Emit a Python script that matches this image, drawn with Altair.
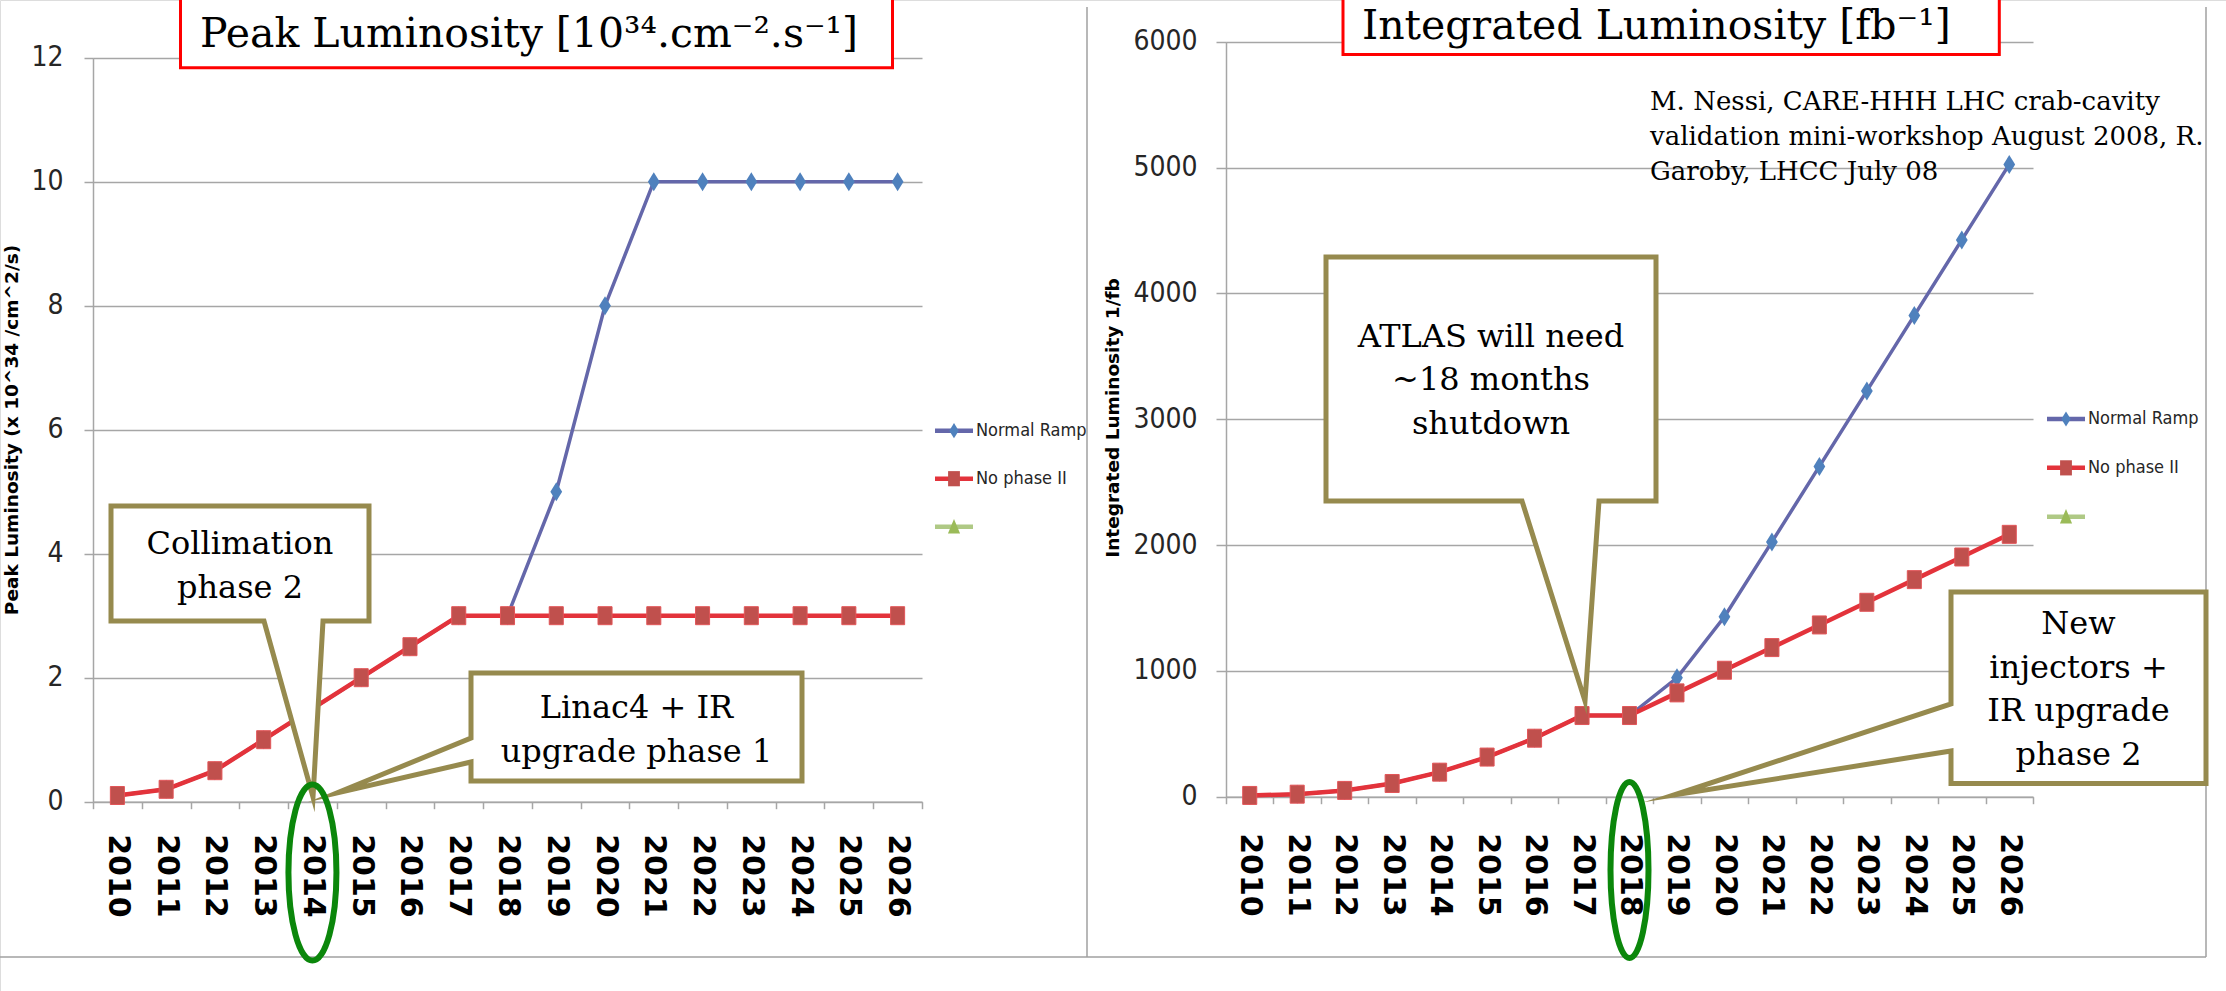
import altair as alt
import pandas as pd

# ---------------- data ----------------
years = ["2010", "2011", "2012", "2013", "2014", "2015", "2016", "2017", "2018",
         "2019", "2020", "2021", "2022", "2023", "2024", "2025", "2026"]

peak_normal_ramp = [0.1, 0.2, 0.5, 1.0, 1.5, 2.0, 2.5, 3.0, 3.0, 5.0, 8.0, 10.0, 10.0, 10.0, 10.0, 10.0, 10.0]
peak_no_phase2 = [0.1, 0.2, 0.5, 1.0, 1.5, 2.0, 2.5, 3.0, 3.0, 3.0, 3.0, 3.0, 3.0, 3.0, 3.0, 3.0, 3.0]

int_normal_ramp = [10, 20, 50, 105, 195, 315, 465, 645, 645, 945, 1430, 2025, 2625, 3225, 3825, 4425, 5025]
int_no_phase2 = [10, 20, 50, 105, 195, 315, 465, 645, 645, 825, 1005, 1185, 1365, 1545, 1725, 1905, 2085]

peak_ticks = [0, 2, 4, 6, 8, 10, 12]
int_ticks = [0, 1000, 2000, 3000, 4000, 5000, 6000]

legend_keys = ["Normal Ramp", "No phase II", "Series3"]
legend_labels = ["Normal Ramp", "No phase II", ""]

peak_title = "Peak Luminosity [10³⁴.cm⁻².s⁻¹]"
int_title = "Integrated Luminosity [fb⁻¹]"
peak_ytitle = "Peak Luminosity (x 10^34 /cm^2/s)"
int_ytitle = "Integrated Luminosity 1/fb"
citation = ["M. Nessi, CARE-HHH LHC crab-cavity",
            "validation mini-workshop August 2008, R.",
            "Garoby, LHCC July 08"]
callout_collimation = ["Collimation", "phase 2"]
callout_linac = ["Linac4 + IR", "upgrade phase 1"]
callout_atlas = ["ATLAS will need", "~18 months", "shutdown"]
callout_injectors = ["New", "injectors +", "IR upgrade", "phase 2"]
marked_years = ["2014", "2018"]

# ---------------- styles ----------------
W, H = 2226, 991
GRID = "#A6A6A6"
BLUE_LINE = "#6467AA"
BLUE_MARK = "#4F81BD"
RED_LINE = "#E3333B"
RED_MARK = "#C0504D"
GREEN = "#9BBB59"
OLIVE = "#968A4E"
RING = "#0B870B"
NARROW = "DejaVu Sans Condensed, Liberation Sans, sans-serif"
SERIF = "DejaVu Serif"
SANS = "DejaVu Sans"

DIAMOND = "M0,-1L0.62,0L0,1L-0.62,0Z"
SQUARE = "M-0.78,-1L0.78,-1L0.78,1L-0.78,1Z"
TRIANGLE = "M0,-1L0.8,0.9L-0.8,0.9Z"

one = pd.DataFrame({"k": [0]})


def panel(normal, nophase, x_range, y_dom, y_range, y_ticks, x_off, x_lab_pad, y_off, y_tick, y_lab_pad):
    df = pd.DataFrame({"year": years, "normal": normal, "nophase": nophase})
    xs = alt.Scale(type="band", domain=years, range=x_range, paddingInner=0, paddingOuter=0)
    ys = alt.Scale(domain=y_dom, range=y_range, nice=False, zero=False)
    xaxis = alt.Axis(orient="bottom", offset=x_off, grid=False, tickBand="extent", tickSize=7,
                     tickColor=GRID, tickWidth=1.5, domainColor=GRID, domainWidth=1.5,
                     labelAngle=90, labelAlign="left", labelBaseline="middle", labelFont=SANS,
                     labelFontWeight="bold", labelFontSize=30, labelColor="black",
                     labelPadding=x_lab_pad, labelOverlap=False, title=None)
    yaxis = alt.Axis(orient="left", offset=y_off, values=y_ticks, format="d", grid=True, gridColor=GRID,
                     gridWidth=1.5, tickSize=y_tick, tickColor=GRID, tickWidth=1.5,
                     domainColor=GRID, domainWidth=1.5, labelFont=NARROW, labelFontSize=28,
                     labelColor="#262626", labelPadding=y_lab_pad, labelOverlap=False, title=None)
    base = alt.Chart(df)
    layers = [
        base.mark_line(color=BLUE_LINE, strokeWidth=3.5).encode(
            x=alt.X("year:O", scale=xs, bandPosition=0.5, axis=xaxis),
            y=alt.Y("normal:Q", scale=ys, axis=yaxis)),
        base.mark_point(shape=DIAMOND, size=361, filled=True, color=BLUE_MARK, opacity=1).encode(
            x=alt.X("year:O", scale=xs, bandPosition=0.5, axis=None),
            y=alt.Y("normal:Q", scale=ys, axis=None)),
        base.mark_line(color=RED_LINE, strokeWidth=4.5).encode(
            x=alt.X("year:O", scale=xs, bandPosition=0.5, axis=None),
            y=alt.Y("nophase:Q", scale=ys, axis=None)),
        base.mark_point(shape=SQUARE, size=324, filled=True, color=RED_MARK, opacity=1,
                        stroke="#E25558", strokeWidth=1).encode(
            x=alt.X("year:O", scale=xs, bandPosition=0.5, axis=None),
            y=alt.Y("nophase:Q", scale=ys, axis=None)),
    ]
    return layers, xs


def legend(x0, x1, y_range, tx):
    ldf = pd.DataFrame({"key": legend_keys, "label": legend_labels})
    ys = alt.Scale(type="point", domain=legend_keys, range=y_range, padding=0)
    col = alt.Color("key:N", scale=alt.Scale(domain=legend_keys, range=[BLUE_LINE, RED_LINE, "#AFC985"]), legend=None)
    mcol = alt.Color("key:N", scale=alt.Scale(domain=legend_keys, range=[BLUE_MARK, RED_MARK, GREEN]), legend=None)
    shp = alt.Shape("key:N", scale=alt.Scale(domain=legend_keys, range=[DIAMOND, SQUARE, TRIANGLE]), legend=None)
    b = alt.Chart(ldf)
    return [
        b.mark_rule(strokeWidth=4.5).encode(x=alt.value(x0), x2=alt.value(x1),
                                            y=alt.Y("key:N", scale=ys, axis=None), color=col),
        b.mark_point(filled=True, opacity=1, size=230).encode(
            x=alt.value((x0 + x1) / 2), y=alt.Y("key:N", scale=ys, axis=None), color=mcol, shape=shp),
        b.mark_text(align="left", baseline="middle", font=NARROW, fontSize=18, color="#262626").encode(
            x=alt.value(tx), y=alt.Y("key:N", scale=ys, axis=None), text="label:N"),
    ]


def callout(path, lines, cx, cy):
    return [
        alt.Chart(one).mark_point(shape=path, size=4, filled=True, fill="white", stroke=OLIVE,
                                  strokeWidth=5, opacity=1, strokeJoin="miter", strokeMiterLimit=20).encode(
            x=alt.value(0), y=alt.value(0)),
        alt.Chart(one).mark_text(font=SERIF, fontSize=32, align="center", baseline="alphabetic",
                                 lineHeight=43.5, color="black").encode(
            x=alt.value(cx), y=alt.value(cy), text=alt.value(lines)),
    ]


def rule(x, y, x2=None, y2=None):
    enc = {"x": alt.value(x), "y": alt.value(y)}
    if x2 is not None:
        enc["x2"] = alt.value(x2)
    if y2 is not None:
        enc["y2"] = alt.value(y2)
    return alt.Chart(one).mark_rule(color="#A0A0A0", strokeWidth=1.5).encode(**enc)


layers = [rule(1087, 7, y2=957), rule(2206, 7, y2=957), rule(0, 957, x2=2206)]

left_layers, left_xs = panel(peak_normal_ramp, peak_no_phase2, [93, 922], [0, 12], [801.7, 57.7],
                             peak_ticks, 801.7 - H, 25, -93, 9, 21)
right_layers, right_xs = panel(int_normal_ramp, int_no_phase2, [1226, 2033], [0, 6000], [796.7, 41.7],
                               int_ticks, 796.7 - H, 29, -1226, 10, 19)
layers += left_layers + right_layers

# title boxes
for x0, x1, y1, tx, ty, txt in [(180.5, 892.5, 67.8, 200, 46.7, peak_title),
                                (1343, 1999.3, 54.5, 1362, 39, int_title)]:
    layers.append(alt.Chart(one).mark_rect(fill="white", stroke="#FF0000", strokeWidth=3).encode(
        x=alt.value(x0), x2=alt.value(x1), y=alt.value(-10), y2=alt.value(y1)))
    layers.append(alt.Chart(one).mark_text(font=SERIF, fontSize=41, align="left", baseline="alphabetic",
                                           color="black").encode(
        x=alt.value(tx), y=alt.value(ty), text=alt.value(txt)))

# callouts
layers += callout("M111,506H369V621H323L313,797L264,621H111Z", callout_collimation, 240, 554)
layers += callout("M471,673H802V781H471V762L337,793L471,738Z", callout_linac, 636.5, 718)
layers += callout("M1326,257H1656V501H1599L1585,701L1522,501H1326Z", callout_atlas, 1491, 346.7)
layers += callout("M1951,592H2206V783.5H1951V751L1674,795L1951,704Z", callout_injectors, 2078.5, 634)

# green rings round the marked years
for yr, xs, path, cy in [(marked_years[0], left_xs, "M-24,0A24,88 0 1,0 24,0A24,88 0 1,0 -24,0Z", 872.5),
                         (marked_years[1], right_xs, "M-19,0A19,88 0 1,0 19,0A19,88 0 1,0 -19,0Z", 870)]:
    layers.append(alt.Chart(pd.DataFrame({"year": [yr]})).mark_point(
        shape=path, size=4, filled=False, stroke=RING, strokeWidth=6, opacity=1).encode(
        x=alt.X("year:O", scale=xs, bandPosition=0.5, axis=None), y=alt.value(cy)))

# legends
layers += legend(935, 973, [430.7, 526.7], 976)
layers += legend(2047, 2085, [419, 516.7], 2088)

# axis titles and citation
for x, y, txt in [(12, 430, peak_ytitle), (1113, 418, int_ytitle)]:
    layers.append(alt.Chart(one).mark_text(angle=270, font=SANS, fontWeight="bold", fontSize=18.5,
                                           align="center", baseline="middle", color="black").encode(
        x=alt.value(x), y=alt.value(y), text=alt.value(txt)))
layers.append(alt.Chart(one).mark_text(font=SERIF, fontSize=26, align="left", baseline="alphabetic",
                                       lineHeight=35, color="black").encode(
    x=alt.value(1650), y=alt.value(110), text=alt.value(citation)))

chart = alt.layer(*layers).resolve_scale(
    x="independent", y="independent", color="independent", shape="independent"
).properties(
    width=W, height=H, padding=0, autosize=alt.AutoSizeParams(type="none")
).configure_view(strokeWidth=0).configure(background="white")

chart.save("out.html", embed_options={"renderer": "svg", "actions": False})
